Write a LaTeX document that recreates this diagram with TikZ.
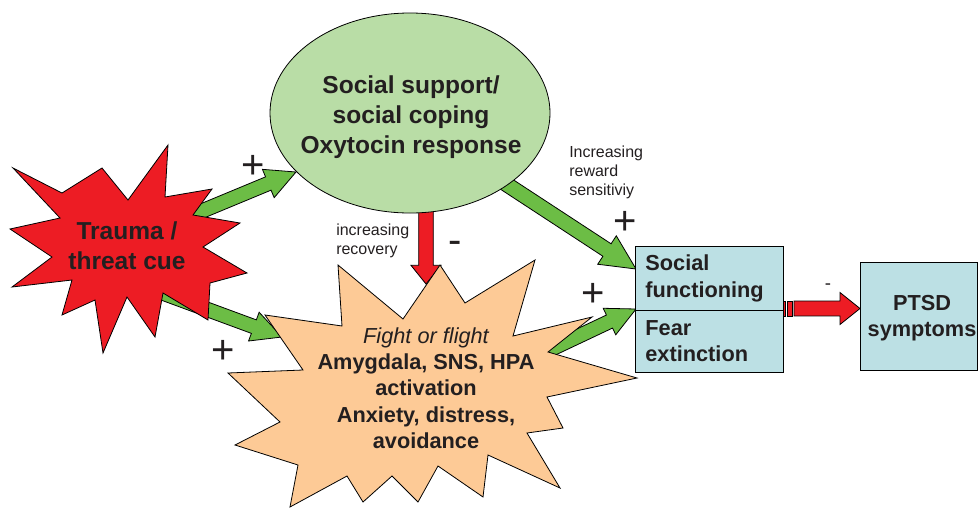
\documentclass[tikz,border=0pt]{standalone}
\usepackage{fontspec}
\setmainfont{Liberation Sans}
\usetikzlibrary{calc,shapes.geometric}
\definecolor{ared}{HTML}{ED1C24}
\definecolor{agreen}{HTML}{6CBD45}
\definecolor{egreen}{HTML}{B9DDA6}
\definecolor{sorange}{HTML}{FDCA96}
\definecolor{boxblue}{HTML}{BCE0E4}
\definecolor{txt}{HTML}{231F20}
% block arrow: style, from, to, shaft half-width, head half-width, head length
\newcommand\blkarrow[6]{%
  \coordinate (bkH) at ($(#3)!#6!(#2)$);
  \path[#1] ($(#2)!#4!90:(#3)$) -- ($(bkH)!#4!-90:(#2)$) -- ($(bkH)!#5!-90:(#2)$)
    -- (#3) -- ($(bkH)!#5!90:(#2)$) -- ($(bkH)!#4!90:(#2)$) -- ($(#2)!#4!-90:(#3)$) -- cycle;}
\begin{document}
\begin{tikzpicture}[x=0.75pt,y=-0.75pt,
  outl/.style={draw=black, line width=0.6pt},
  garrow/.style={outl, fill=agreen},
  rarrow/.style={outl, fill=ared},
  bigtxt/.style={font=\fontsize{18.4}{22.5}\selectfont\bfseries, align=center, text=txt, inner sep=0},
  midtxt/.style={font=\fontsize{16.3}{19.7}\selectfont\bfseries, text=txt},
  smalltxt/.style={font=\fontsize{12}{14.2}\selectfont, align=left, text=txt, anchor=west, inner sep=0},
  sign/.style={font=\fontsize{30}{30}\selectfont, text=txt, inner sep=0},
  bluebox/.style={outl, fill=boxblue, midtxt, align=left, text width=96pt, inner xsep=7.5pt, minimum width=111pt, anchor=north west}]
\useasboundingbox (0,0) rectangle (980,507);

% connector end points
\coordinate (a1s) at (190,216); \coordinate (a1e) at (296,172);
\coordinate (a2s) at (160,292); \coordinate (a2e) at (282,337);
\coordinate (a3s) at (500,180); \coordinate (a3e) at (636,269);
\coordinate (a4s) at (545,352); \coordinate (a4e) at (636,309);
\coordinate (rds) at (426,205); \coordinate (rde) at (426,284);

% arrows (behind shapes)
\blkarrow{garrow}{a1s}{a1e}{5.4pt}{11.5pt}{22.5pt}
\blkarrow{garrow}{a2s}{a2e}{5.4pt}{11.5pt}{22.5pt}
\blkarrow{garrow}{a3s}{a3e}{5.6pt}{12.75pt}{26pt}
\blkarrow{garrow}{a4s}{a4e}{5.4pt}{11pt}{22pt}
\blkarrow{rarrow}{rds}{rde}{5.5pt}{11.25pt}{14pt}

% ellipse
\node[ellipse, outl, fill=egreen, minimum width=210pt, minimum height=150pt, inner sep=0] (support) at (410,113) {};
\node[bigtxt] (supporttxt) at (411,117) {Social support/\\social coping\\Oxytocin response};

% red star
\draw[outl, fill=ared] (13,168) -- (62,193) -- (102,168) -- (128,200) -- (168,145) -- (165,197)
  -- (212,189) -- (193,215) -- (240,223) -- (203,247) -- (247,273) -- (210,283) -- (208,320)
  -- (163,293) -- (155,337) -- (127,297) -- (103,353) -- (95,300) -- (62,315) -- (72,280)
  -- (12,287) -- (52,257) -- (10,229) -- (60,218) -- cycle;
\node[bigtxt] (trauma) at (127,246) {Trauma /\\threat cue};

% orange star
\draw[outl, fill=sorange] (338,265) -- (403,319) -- (440,265) -- (465,303) -- (535,260) -- (513,336)
  -- (592,317) -- (548,352) -- (637,378) -- (547,397) -- (563,428) -- (527,433) -- (560,488)
  -- (488,455) -- (483,497) -- (438,466) -- (418,502) -- (392,476) -- (363,502) -- (347,476)
  -- (290,507) -- (298,465) -- (235,445) -- (280,422) -- (228,373) -- (303,370) -- (265,315)
  -- (342,326) -- cycle;
\node[midtxt, align=center, inner sep=0] (fight) at (426,388)
  {{\mdseries\itshape Fight or flight}\\Amygdala, SNS, HPA\\activation\\Anxiety, distress,\\avoidance};

% boxes
\node[bluebox, minimum height=48pt] (social) at (635,246) {Social\\functioning};
\node[bluebox, minimum height=46.5pt] (fear) at (635,310) {Fear\\extinction};
\node[outl, fill=boxblue, midtxt, align=center, minimum width=87.75pt, minimum height=81pt, anchor=north west] (ptsd) at (860,262) {};
\node[midtxt, align=center, inner sep=0] (ptsdtxt) at (922,318) {PTSD\\symptoms};

% striped red arrow to PTSD
\coordinate (pa1) at (783.5,308.5); \coordinate (pa2) at (794,308.5); \coordinate (pae) at (860,308.5);
\draw[rarrow] (783.5,301) rectangle (785.5,316);
\draw[rarrow] (787,301) rectangle (792,316);
\blkarrow{rarrow}{pa2}{pae}{5.6pt}{12pt}{15pt}

% labels
\node[smalltxt] (lrec) at (336,241) {increasing\\recovery};
\node[smalltxt] (lrew) at (569,172) {Increasing\\reward\\sensitiviy};
\node[sign] (p1) at (253,167) {+};
\node[sign] (p2) at (223,352) {+};
\node[sign] (p3) at (625,223) {+};
\node[sign] (p4) at (593,295) {+};
\node[sign] (m1) at (455,247) {-};
\node[font=\fontsize{14}{14}\selectfont, text=txt, inner sep=0] (m2) at (828,287) {-};
\end{tikzpicture}
\end{document}
